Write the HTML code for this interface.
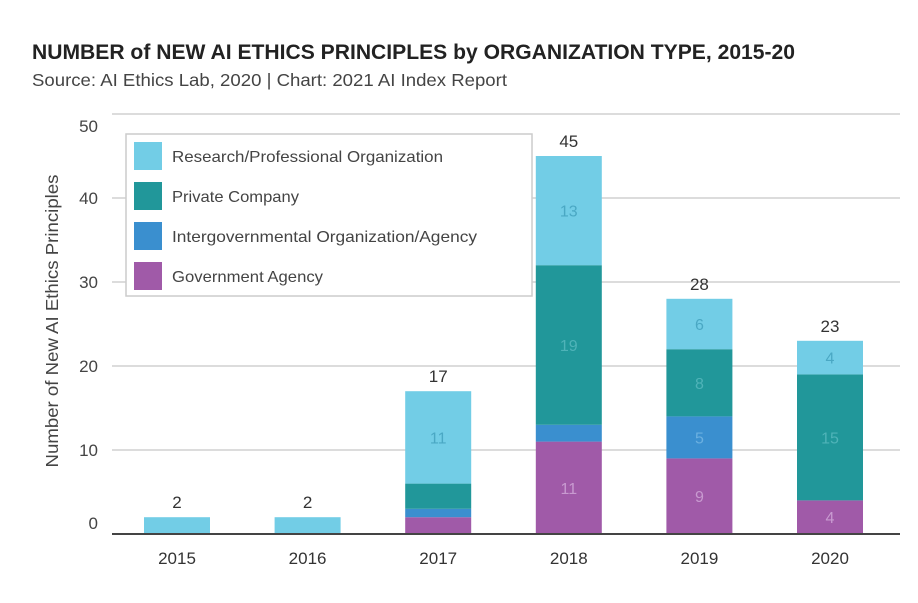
<!DOCTYPE html>
<html><head><meta charset="utf-8"><style>
body{margin:0;background:#fff;font-family:"Liberation Sans",sans-serif;}
svg text{font-family:"Liberation Sans","Noto Sans CJK SC",sans-serif;}
</style></head><body>
<svg width="918" height="598" viewBox="0 0 918 598">
<text x="32" y="59" font-size="21" font-weight="bold" fill="#222" textLength="763" lengthAdjust="spacingAndGlyphs">NUMBER of NEW AI ETHICS PRINCIPLES by ORGANIZATION TYPE, 2015-20</text>
<text x="32" y="86" font-size="17.5" fill="#444" textLength="475" lengthAdjust="spacingAndGlyphs">Source: AI Ethics Lab, 2020 | Chart: 2021 AI Index Report</text>
<text transform="translate(58,321) rotate(-90)" text-anchor="middle" font-size="17.5" fill="#444" textLength="293" lengthAdjust="spacingAndGlyphs">Number of New AI Ethics Principles</text>
<g id="grid"></g><g id="bars"></g>
<line x1="112" y1="534" x2="900" y2="534" stroke="#444" stroke-width="2"/>
<g>
<rect x="126" y="134" width="406" height="162" fill="#fff" stroke="#ccc" stroke-width="1.5"/>
<g id="legend"></g></g>
</svg>
<script>
const years=["2015","2016","2017","2018","2019","2020"];
const government=[0,0,2,11,9,4];
const intergov=[0,0,1,2,5,0];
const privateCo=[0,0,3,19,8,15];
const research=[2,2,11,13,6,4];
const yTicks=[0,10,20,30,40,50];
const seriesNames=["Government Agency","Intergovernmental Organization/Agency","Private Company","Research/Professional Organization"];
const legendWidths=[151,305,127,271];
const colors=["#a05aa8","#3a8fcf","#21979a","#72cde6"];
const labelColors=["#c89ad0","#6bb0e0","#4fb3b8","#4aa8c4"];
const NS="http://www.w3.org/2000/svg";
const y=v=>534-v*8.4;
const x=i=>177+i*130.6;
const bw=66;
function mk(tag,attrs,parent){const e=document.createElementNS(NS,tag);for(const k in attrs)e.setAttribute(k,attrs[k]);parent.appendChild(e);return e;}
const grid=document.getElementById('grid');
yTicks.forEach(t=>{
 if(t>0){const l=mk('line',{x1:112,x2:900,y1:y(t),y2:y(t),stroke:'#d0d0d0','stroke-width':1.5},grid);
 
 }
 let ly=y(t)+6; if(t===50) ly+=12; if(t===0) ly-=11;
 const tx=mk('text',{x:98,y:ly,'text-anchor':'end','font-size':17,fill:'#444'},grid);tx.textContent=t;
 
 
});
const bars=document.getElementById('bars');
const series=[government,intergov,privateCo,research];
years.forEach((yr,i)=>{
 let base=0;
 series.forEach((s,k)=>{
  const v=s[i]; if(!v) return;
  const r=mk('rect',{x:x(i)-bw/2,y:y(base+v),width:bw,height:v*8.4,fill:colors[k]},bars);
  
  
  if(v>=4){const t=mk('text',{x:x(i),y:y(base+v/2)+6,'text-anchor':'middle','font-size':16,fill:labelColors[k]},bars);t.textContent=v;
   
   }
  base+=v;
 });
 const tot=mk('text',{x:x(i),y:y(base)-9,'text-anchor':'middle','font-size':17,fill:'#333'},bars);tot.textContent=base;
 
 
 const xl=mk('text',{x:x(i),y:564,'text-anchor':'middle','font-size':17,fill:'#333'},bars);xl.textContent=yr;
 
 
});
const lg=document.getElementById('legend');
[3,2,1,0].forEach((k,j)=>{
 const yy=142+j*40;
 const r=mk('rect',{x:134,y:yy,width:28,height:28,fill:colors[k]},lg);
 
 
 const t=mk('text',{x:172,y:yy+20,'font-size':16,fill:'#444',textLength:legendWidths[k],lengthAdjust:'spacingAndGlyphs'},lg);t.textContent=seriesNames[k];
 
 
});
</script>
</body></html>
